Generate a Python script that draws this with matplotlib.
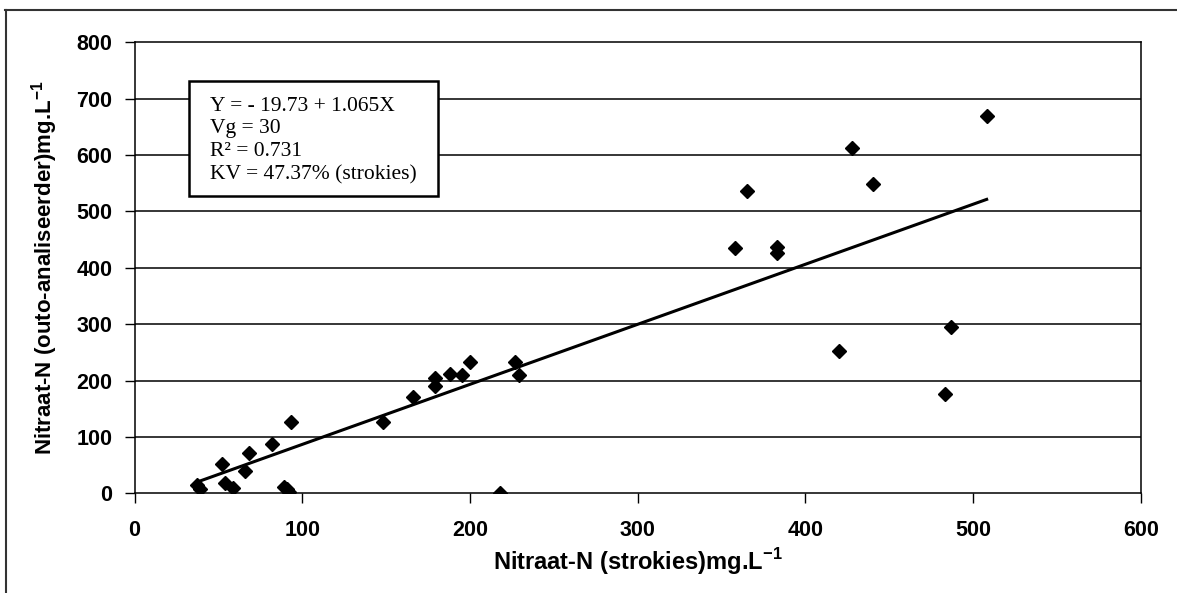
import matplotlib.pyplot as plt
from matplotlib.patches import Rectangle
from matplotlib.lines import Line2D
import numpy as np

plt.rcParams['mathtext.fontset'] = 'custom'
plt.rcParams['mathtext.rm'] = 'Liberation Sans:bold'
plt.rcParams['mathtext.bf'] = 'Liberation Sans:bold'

# strokies (x) vs outo-analiseerder (y)
strokies = [37, 39, 52, 54, 59, 66, 68, 82, 93, 89, 91, 92,
            148, 166, 179, 179, 188, 195, 200, 227, 229, 218,
            358, 365, 383, 383, 420, 428, 440, 483, 487, 508]
outo = [14, 8, 52, 19, 10, 40, 72, 88, 127, 11, 8, 3,
        127, 170, 205, 190, 212, 210, 232, 232, 210, 0,
        435, 537, 437, 427, 253, 612, 549, 176, 295, 670]

intercept = -19.73
slope = 1.065
box_lines = ["Y = - 19.73 + 1.065X", "Vg = 30", "R\u00b2 = 0.731", "KV = 47.37% (strokies)"]

xticks = [0, 100, 200, 300, 400, 500, 600]
yticks = [0, 100, 200, 300, 400, 500, 600, 700, 800]

fig = plt.figure(figsize=(11.77, 5.93), dpi=100)
ax = fig.add_axes([0.1143, 0.1681, 0.8551, 0.7607])

for yv in yticks[1:-1]:
    ax.axhline(yv, color='black', lw=1.1, zorder=1)

xs = np.array([min(strokies), max(strokies)])
ax.plot(xs, intercept + slope * xs, color='black', lw=2.2, zorder=2)
ax.plot(strokies, outo, 'D', color='black', markersize=7, zorder=3)

ax.set_xlim(0, 600)
ax.set_ylim(0, 800)
ax.set_xticks(xticks)
ax.set_yticks(yticks)
for s in ax.spines.values():
    s.set_color('black')
    s.set_linewidth(1.1)
ax.tick_params(axis='both', direction='out', length=7, width=1, colors='black',
               labelsize=15.5)
ax.tick_params(axis='x', pad=12)
ax.tick_params(axis='y', pad=9)
for lab in ax.get_xticklabels() + ax.get_yticklabels():
    lab.set_fontfamily('Liberation Sans')
    lab.set_fontweight('bold')

ax.set_xlabel(r'Nitraat-N (strokies)mg.L$^{-1}$', fontfamily='Liberation Sans',
              fontweight='bold', fontsize=17)
ax.set_ylabel(r'Nitraat-N (outo-analiseerder)mg.L$^{-1}$', fontfamily='Liberation Sans',
              fontweight='bold', fontsize=16)
ax.xaxis.label.set_va('center')
ax.yaxis.label.set_va('center')
ax.xaxis.set_label_coords(0.5, -0.152)
ax.yaxis.set_label_coords(-0.089, 0.5)

# equation box
ax.add_patch(Rectangle((0.0537, 0.659), 0.2478, 0.256, transform=ax.transAxes,
                       facecolor='white', edgecolor='black', lw=1.8, zorder=4))
ax.text(0.075, 0.782, "\n".join(box_lines), transform=ax.transAxes, ha='left', va='center',
        fontfamily='Liberation Serif', fontsize=15.5, linespacing=1.28, zorder=5)

# outer frame
fig.add_artist(Line2D([5 / 1177, 1], [1 - 10 / 593, 1 - 10 / 593], transform=fig.transFigure,
                      color='#333333', lw=1.5))
fig.add_artist(Line2D([6 / 1177, 6 / 1177], [0, 1 - 10 / 593], transform=fig.transFigure,
                      color='#333333', lw=1.5))

fig.savefig('out.png', dpi=100)
